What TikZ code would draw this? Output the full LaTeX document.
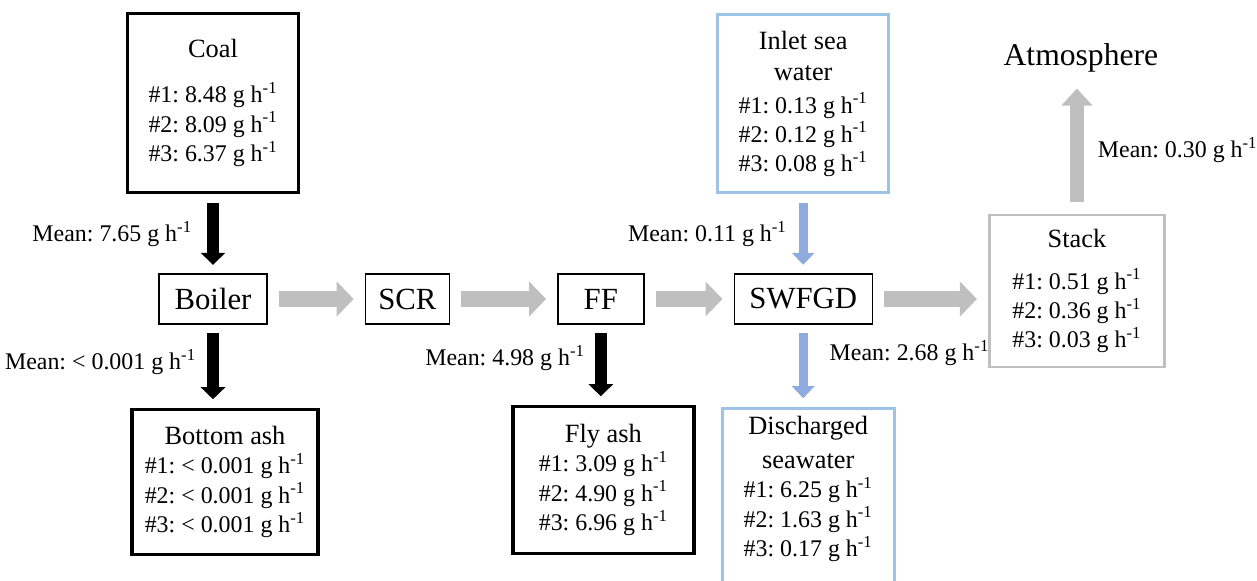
\documentclass[tikz,border=0pt]{standalone}
\usepackage{fontspec}
\setmainfont{Liberation Serif}
\frenchspacing
\usetikzlibrary{arrows.meta,positioning}
\definecolor{flowgray}{RGB}{191,191,191}
\definecolor{waterblue}{RGB}{143,170,220}
\definecolor{waterline}{RGB}{157,195,230}
\newcommand{\gh}{g h\textsuperscript{-1}}
\newcommand{\titlesize}{\fontsize{15}{18}\selectfont}
\tikzset{unit node/.style={draw,line width=0.8pt,inner sep=0pt,minimum height=1cm,font=\fontsize{17.5}{21}\selectfont},
            value box/.style={draw,inner sep=0pt,align=center,font=\fontsize{13.6}{16.6}\selectfont},
            solid box/.style={value box,line width=2pt},
            water box/.style={value box,draw=waterline,line width=1.7pt},
            stack box/.style={value box,draw=flowgray,line width=1.7pt},
            mean label/.style={inner sep=0pt,font=\fontsize{13.6}{16.6}\selectfont},
            gas flow/.style={draw=flowgray,line width=0.32cm,-{Triangle[length=0.34cm,width=0.68cm]},shorten <=0.22cm,shorten >=0.22cm},
            gas rise/.style={draw=flowgray,line width=0.28cm,-{Triangle[length=0.34cm,width=0.6cm]},shorten <=0.24cm,shorten >=0.32cm},
            ash flow/.style={draw=black,line width=0.24cm,-{Triangle[length=0.24cm,width=0.48cm]},shorten <=0.17cm,shorten >=0.17cm},
            water flow/.style={draw=waterblue,line width=0.18cm,-{Triangle[length=0.24cm,width=0.44cm]},shorten <=0.17cm,shorten >=0.17cm},
            }

\begin{document}
\begin{tikzpicture}
    \useasboundingbox (0,0) rectangle (25.14,-11.6);

    \node[unit node,minimum width=2.16cm] (boiler) at (4.26,-5.98) {Boiler};
    \node[unit node,minimum width=1.68cm] (scr) [right = 1.94cm of boiler] {SCR};
    \node[unit node,minimum width=1.72cm] (ff) [right = 2.14cm of scr] {FF};
    \node[unit node,minimum width=2.76cm] (swfgd) [right = 1.78cm of ff] {SWFGD};
    \node[stack box,minimum width=3.5cm,minimum height=3.04cm] (stack) [right = 2.3cm of swfgd,yshift=0.16cm]
        {{\titlesize Stack}\\[7pt] \#1: 0.51 \gh\\ \#2: 0.36 \gh\\ \#3: 0.03 \gh};
    \node[inner sep=0pt,font=\fontsize{18}{21}\selectfont] (atmosphere) [above = 2.82cm of stack,xshift=0.08cm] {Atmosphere};

    \node[solid box,minimum width=3.42cm,minimum height=3.58cm] (coal) [above = 1.58cm of boiler]
        {{\titlesize Coal}\\[9pt] \#1: 8.48 \gh\\ \#2: 8.09 \gh\\ \#3: 6.37 \gh};
    \node[solid box,minimum width=3.72cm,minimum height=2.9cm] (bottomash) [below = 1.66cm of boiler,xshift=0.24cm]
        {{\titlesize Bottom ash}\\ \#1: < 0.001 \gh\\ \#2: < 0.001 \gh\\ \#3: < 0.001 \gh};
    \node[solid box,minimum width=3.62cm,minimum height=2.94cm] (flyash) [below = 1.6cm of ff,xshift=0.05cm]
        {{\titlesize Fly ash}\\ \#1: 3.09 \gh\\ \#2: 4.90 \gh\\ \#3: 6.96 \gh};
    \node[water box,minimum width=3.42cm,minimum height=3.56cm] (inlet) [above = 1.58cm of swfgd]
        {{\titlesize Inlet sea}\\[1pt] {\titlesize water}\\[2pt] \#1: 0.13 \gh\\ \#2: 0.12 \gh\\ \#3: 0.08 \gh};
    % open at the bottom, runs past the page edge
    \node[water box,minimum width=3.44cm,minimum height=3.7cm] (discharged) [below = 1.64cm of swfgd,xshift=0.1cm] {};
    \node[value box,draw=none] (dischargedtext) [below = 0.18cm of discharged.north]
        {{\titlesize Discharged}\\[3pt] {\titlesize seawater}\\ \#1: 6.25 \gh\\ \#2: 1.63 \gh\\ \#3: 0.17 \gh};

    \draw[gas flow] (boiler) -- (scr);
    \draw[gas flow] (scr) -- (ff);
    \draw[gas flow] (ff) -- (swfgd);
    \draw[gas flow] (swfgd) -- (swfgd -| stack.west);

    \draw[ash flow] (coal) -- node[mean label,left=0.3cm] {Mean: 7.65 \gh} (boiler);
    \draw[ash flow] (boiler) -- node[mean label,left=0.22cm,pos=0.45] {Mean: < 0.001 \gh} (boiler |- bottomash.north);
    \draw[ash flow] (ff) -- node[mean label,left=0.2cm,pos=0.42] {Mean: 4.98 \gh} (ff |- flyash.north);
    \draw[water flow] (inlet) -- node[mean label,left=0.24cm] {Mean: 0.11 \gh} (swfgd);
    \draw[water flow] (swfgd) -- node[mean label,right=0.44cm,pos=0.35] {Mean: 2.68 \gh} (swfgd |- discharged.north);
    \draw[gas rise] (stack) -- node[mean label,right=0.28cm,pos=0.45] {Mean: 0.30 \gh} (stack |- atmosphere.south);

\end{tikzpicture}
\end{document}
